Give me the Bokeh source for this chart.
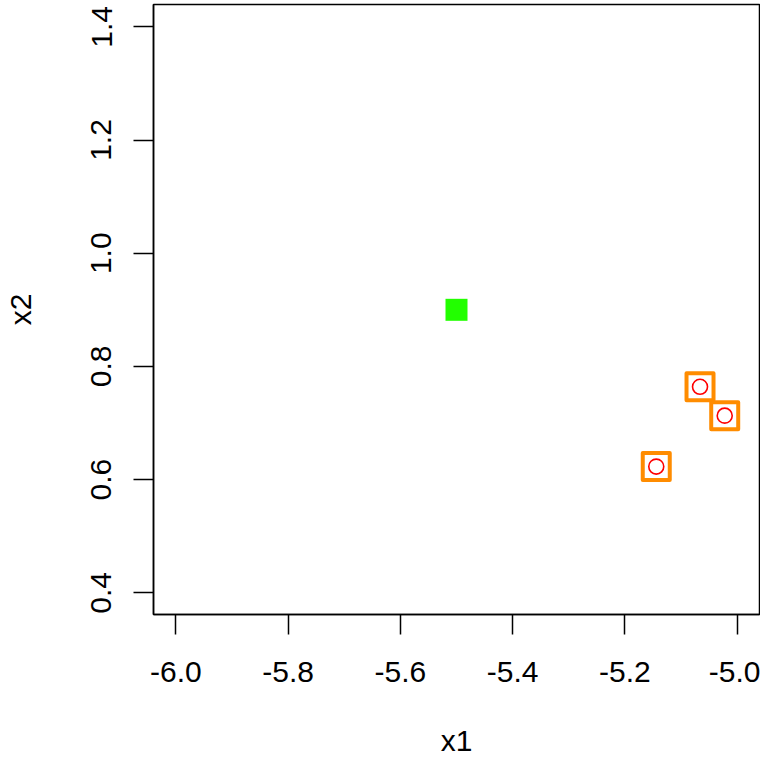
from bokeh.plotting import figure
from bokeh.models import Range1d, FixedTicker, PrintfTickFormatter
from bokeh.embed import file_html
from bokeh.resources import INLINE

# data
hit_x1 = [-5.066, -5.022, -5.144]
hit_x2 = [0.764, 0.713, 0.623]
center_x1 = [-5.5]
center_x2 = [0.9]
x_ticks = [-6.0, -5.8, -5.6, -5.4, -5.2, -5.0]
y_ticks = [0.4, 0.6, 0.8, 1.0, 1.2, 1.4]
x_title = "x1"
y_title = "x2"

FONT = "Liberation Sans"
X0, X1 = -6.04, -4.96
Y0, Y1 = 0.3617, 1.4394

p = figure(width=760, height=760, output_backend="svg", toolbar_location=None,
           x_range=Range1d(X0, X1), y_range=Range1d(Y0, Y1),
           min_border_left=152, min_border_right=1, min_border_top=4, min_border_bottom=146,
           x_axis_label=x_title, y_axis_label=y_title)
p.xgrid.visible = False
p.ygrid.visible = False
p.outline_line_color = "black"
p.outline_line_width = 1.5
p.background_fill_color = "white"
p.border_fill_color = "white"

for ax, ticks in ((p.xaxis[0], x_ticks), (p.yaxis[0], y_ticks)):
    ax.ticker = FixedTicker(ticks=ticks)
    ax.formatter = PrintfTickFormatter(format="%.1f")
    ax.major_tick_out = 20
    ax.major_tick_in = 0
    ax.minor_tick_out = 0
    ax.minor_tick_in = 0
    ax.major_tick_line_width = 1.5
    ax.axis_line_width = 1.5
    ax.major_label_text_font = FONT
    ax.major_label_text_font_size = "30px"
    ax.major_label_text_color = "black"
    ax.axis_label_text_font = FONT
    ax.axis_label_text_font_size = "30px"
    ax.axis_label_text_font_style = "normal"
    ax.axis_label_text_color = "black"

p.xaxis.major_label_standoff = 27
p.xaxis.axis_label_standoff = 39
p.yaxis.major_label_orientation = "vertical"
p.yaxis.major_label_standoff = 22
p.yaxis.axis_label_standoff = 52

p.scatter(hit_x1, hit_x2, marker="square", size=27, fill_color=None,
          line_color="#FF8C00", line_width=4, line_join="round")
p.scatter(hit_x1, hit_x2, marker="circle", size=15, fill_color=None,
          line_color="#FF0000", line_width=1.6)
p.scatter(center_x1, center_x2, marker="square", size=22, fill_color="#22FF00",
          line_color=None)

open("out.html", "w").write(file_html(p, INLINE))
